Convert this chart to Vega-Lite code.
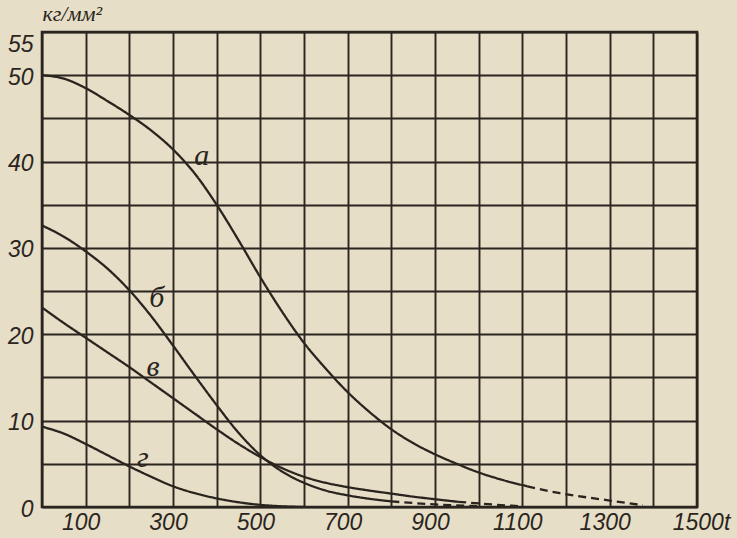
{
  "$schema": "https://vega.github.io/schema/vega-lite/v6.json",
  "width": 655,
  "height": 475,
  "autosize": "none",
  "padding": {"left": 42, "top": 32, "right": 40, "bottom": 31},
  "background": "#e6dec6",
  "config": {
    "view": {"stroke": "#2b2520", "strokeWidth": 2.6, "fill": "#e6dec6"},
    "axis": {
      "grid": true,
      "gridColor": "#2b2520",
      "gridWidth": 1.9,
      "gridOpacity": 1,
      "domain": false,
      "ticks": false,
      "labelFont": "Liberation Sans",
      "labelFontStyle": "italic",
      "labelFontSize": 23,
      "labelColor": "#2b2520"
    }
  },
  "datasets": {
    "curves": [
      {"curve": "a", "part": "solid", "x": 0, "y": 50},
      {"curve": "a", "part": "solid", "x": 50, "y": 49.6},
      {"curve": "a", "part": "solid", "x": 100, "y": 48.5},
      {"curve": "a", "part": "solid", "x": 150, "y": 47},
      {"curve": "a", "part": "solid", "x": 200, "y": 45.4},
      {"curve": "a", "part": "solid", "x": 250, "y": 43.6},
      {"curve": "a", "part": "solid", "x": 300, "y": 41.4},
      {"curve": "a", "part": "solid", "x": 350, "y": 38.6},
      {"curve": "a", "part": "solid", "x": 400, "y": 35.0},
      {"curve": "a", "part": "solid", "x": 450, "y": 30.9},
      {"curve": "a", "part": "solid", "x": 500, "y": 26.6},
      {"curve": "a", "part": "solid", "x": 550, "y": 22.6},
      {"curve": "a", "part": "solid", "x": 600, "y": 19.0},
      {"curve": "a", "part": "solid", "x": 650, "y": 16.0},
      {"curve": "a", "part": "solid", "x": 700, "y": 13.3},
      {"curve": "a", "part": "solid", "x": 750, "y": 11.0},
      {"curve": "a", "part": "solid", "x": 800, "y": 9.0},
      {"curve": "a", "part": "solid", "x": 850, "y": 7.4},
      {"curve": "a", "part": "solid", "x": 900, "y": 6.1},
      {"curve": "a", "part": "solid", "x": 950, "y": 5.0},
      {"curve": "a", "part": "solid", "x": 1000, "y": 4.0},
      {"curve": "a", "part": "solid", "x": 1050, "y": 3.2},
      {"curve": "a", "part": "solid", "x": 1111, "y": 2.4},
      {"curve": "a", "part": "dashed", "x": 1111, "y": 2.4},
      {"curve": "a", "part": "dashed", "x": 1186, "y": 1.6},
      {"curve": "a", "part": "dashed", "x": 1250, "y": 1.1},
      {"curve": "a", "part": "dashed", "x": 1300, "y": 0.75},
      {"curve": "a", "part": "dashed", "x": 1376, "y": 0.2},
      {"curve": "b", "part": "solid", "x": 0, "y": 32.6},
      {"curve": "b", "part": "solid", "x": 50, "y": 31.3},
      {"curve": "b", "part": "solid", "x": 100, "y": 29.6},
      {"curve": "b", "part": "solid", "x": 150, "y": 27.6},
      {"curve": "b", "part": "solid", "x": 200, "y": 25.1},
      {"curve": "b", "part": "solid", "x": 250, "y": 22.1},
      {"curve": "b", "part": "solid", "x": 300, "y": 18.7},
      {"curve": "b", "part": "solid", "x": 350, "y": 15.2},
      {"curve": "b", "part": "solid", "x": 400, "y": 11.8},
      {"curve": "b", "part": "solid", "x": 450, "y": 8.6},
      {"curve": "b", "part": "solid", "x": 500, "y": 6.0},
      {"curve": "b", "part": "solid", "x": 550, "y": 4.1},
      {"curve": "b", "part": "solid", "x": 600, "y": 2.8},
      {"curve": "b", "part": "solid", "x": 650, "y": 1.9},
      {"curve": "b", "part": "solid", "x": 700, "y": 1.35},
      {"curve": "b", "part": "solid", "x": 750, "y": 0.95},
      {"curve": "b", "part": "solid", "x": 800, "y": 0.65},
      {"curve": "b", "part": "dashed", "x": 800, "y": 0.65},
      {"curve": "b", "part": "dashed", "x": 900, "y": 0.3},
      {"curve": "b", "part": "dashed", "x": 1000, "y": 0.1},
      {"curve": "v", "part": "solid", "x": 0, "y": 23.1},
      {"curve": "v", "part": "solid", "x": 50, "y": 21.3},
      {"curve": "v", "part": "solid", "x": 100, "y": 19.6},
      {"curve": "v", "part": "solid", "x": 150, "y": 17.9},
      {"curve": "v", "part": "solid", "x": 200, "y": 16.2},
      {"curve": "v", "part": "solid", "x": 250, "y": 14.4},
      {"curve": "v", "part": "solid", "x": 300, "y": 12.6},
      {"curve": "v", "part": "solid", "x": 350, "y": 10.8},
      {"curve": "v", "part": "solid", "x": 400, "y": 9.0},
      {"curve": "v", "part": "solid", "x": 450, "y": 7.3},
      {"curve": "v", "part": "solid", "x": 500, "y": 5.8},
      {"curve": "v", "part": "solid", "x": 550, "y": 4.5},
      {"curve": "v", "part": "solid", "x": 600, "y": 3.5},
      {"curve": "v", "part": "solid", "x": 650, "y": 2.8},
      {"curve": "v", "part": "solid", "x": 700, "y": 2.3},
      {"curve": "v", "part": "solid", "x": 750, "y": 1.9},
      {"curve": "v", "part": "solid", "x": 800, "y": 1.55},
      {"curve": "v", "part": "solid", "x": 850, "y": 1.2},
      {"curve": "v", "part": "solid", "x": 900, "y": 0.9},
      {"curve": "v", "part": "solid", "x": 953, "y": 0.6},
      {"curve": "v", "part": "dashed", "x": 953, "y": 0.6},
      {"curve": "v", "part": "dashed", "x": 1030, "y": 0.3},
      {"curve": "v", "part": "dashed", "x": 1090, "y": 0.1},
      {"curve": "g", "part": "solid", "x": 0, "y": 9.3},
      {"curve": "g", "part": "solid", "x": 50, "y": 8.5},
      {"curve": "g", "part": "solid", "x": 100, "y": 7.3},
      {"curve": "g", "part": "solid", "x": 150, "y": 6.0},
      {"curve": "g", "part": "solid", "x": 200, "y": 4.7},
      {"curve": "g", "part": "solid", "x": 250, "y": 3.5},
      {"curve": "g", "part": "solid", "x": 300, "y": 2.4},
      {"curve": "g", "part": "solid", "x": 350, "y": 1.6},
      {"curve": "g", "part": "solid", "x": 400, "y": 1.0},
      {"curve": "g", "part": "solid", "x": 450, "y": 0.55},
      {"curve": "g", "part": "solid", "x": 500, "y": 0.25},
      {"curve": "g", "part": "solid", "x": 550, "y": 0.08},
      {"curve": "g", "part": "solid", "x": 600, "y": 0}
    ],
    "labels": [
      {"text": "а", "x": 366, "y": 40.6},
      {"text": "б", "x": 263, "y": 24.2},
      {"text": "в", "x": 254, "y": 16.2},
      {"text": "г", "x": 231, "y": 5.7}
    ]
  },
  "layer": [
    {
      "data": {"name": "curves"},
      "mark": {"type": "line", "color": "#2a241f", "strokeWidth": 2.3, "interpolate": "monotone", "clip": true},
      "encoding": {
        "x": {
          "field": "x", "type": "quantitative",
          "scale": {"domain": [0, 1500], "nice": false},
          "axis": {
            "title": null,
            "values": [0, 100, 200, 300, 400, 500, 600, 700, 800, 900, 1000, 1100, 1200, 1300, 1400, 1500],
            "labelExpr": "datum.value == 1500 ? '1500t' : (datum.value % 200 == 100 ? datum.label : '')",
            "labelPadding": 4,
            "labelOffset": {"condition": {"test": "datum.value == 1500", "value": 4}, "value": -5},
            "labelFlush": false,
            "labelOverlap": false,
            "format": "d"
          }
        },
        "y": {
          "field": "y", "type": "quantitative",
          "scale": {"domain": [0, 55], "nice": false},
          "axis": {
            "values": [0, 2.5, 5, 7.5, 10, 12.5, 15, 17.5, 20, 22.5, 25, 27.5, 30, 32.5, 35, 37.5, 40, 42.5, 45, 47.5, 50, 52.5, 55],
            "labelExpr": "datum.value % 10 == 0 || datum.value == 55 ? format(datum.value, 'd') : ''",
            "labelPadding": 9,
            "labelOffset": {"condition": {"test": "datum.value == 55", "value": 12}, "value": 2},
            "labelFlush": false,
            "labelOverlap": false,
            "title": "кг/мм²",
            "titleAngle": 0,
            "titleAlign": "left",
            "titleBaseline": "alphabetic",
            "titleX": 0,
            "titleY": -12,
            "titleFont": "Liberation Serif",
            "titleFontStyle": "italic",
            "titleFontWeight": "normal",
            "titleFontSize": 22,
            "titleColor": "#2b2520"
          }
        },
        "detail": {"field": "curve"},
        "strokeDash": {
          "field": "part", "type": "nominal",
          "scale": {"domain": ["solid", "dashed"], "range": [[1, 0], [8, 5]]},
          "legend": null
        }
      }
    },
    {
      "data": {"name": "labels"},
      "mark": {"type": "text", "font": "Liberation Serif", "fontStyle": "italic", "fontSize": 30, "color": "#2a241f", "baseline": "middle", "align": "center"},
      "encoding": {
        "x": {"field": "x", "type": "quantitative"},
        "y": {"field": "y", "type": "quantitative"},
        "text": {"field": "text"}
      }
    }
  ]
}
